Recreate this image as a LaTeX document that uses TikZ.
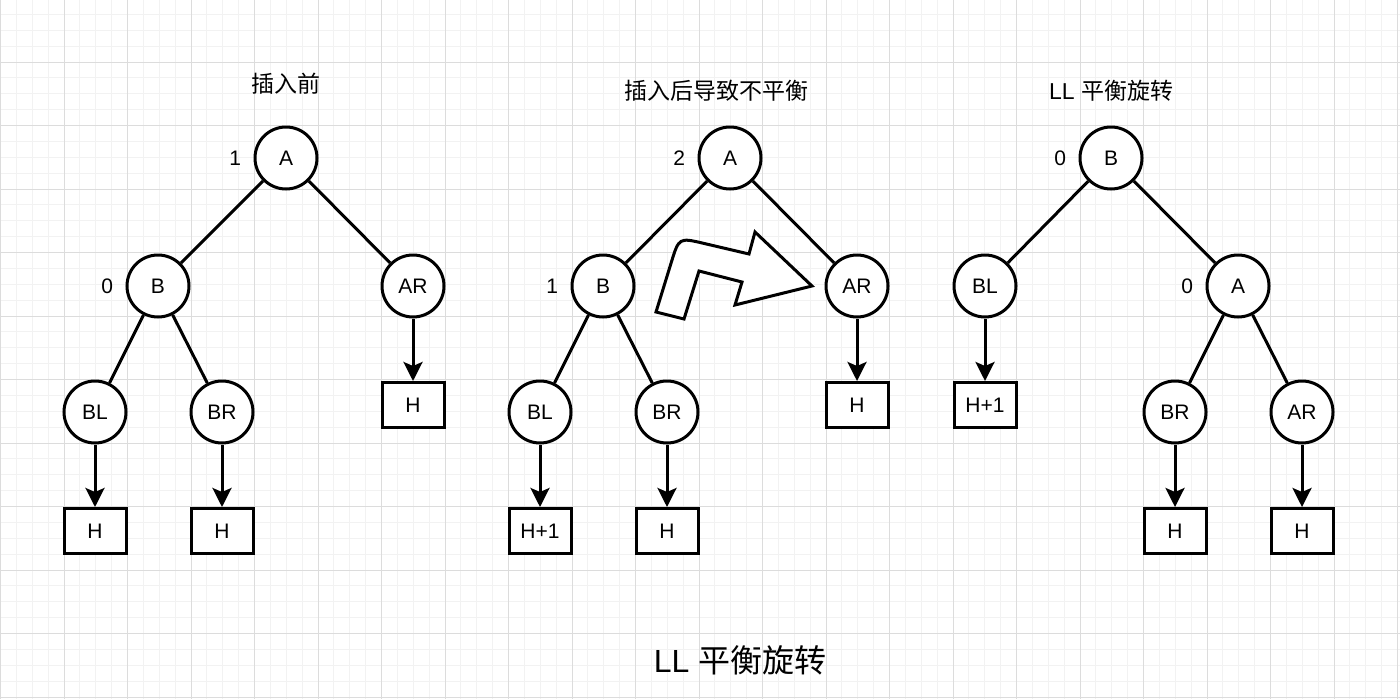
\documentclass[tikz,border=0pt]{standalone}
\usepackage{fontspec}
\setmainfont{Liberation Sans}
\newfontfamily\cjk{Noto Sans CJK SC}
\usetikzlibrary{arrows.meta}
\definecolor{gridminor}{RGB}{242,242,242}
\definecolor{gridmajor}{RGB}{220,220,220}
\begin{document}
\begin{tikzpicture}[x=1pt,y=-1pt,
  treenode/.style={circle,draw,line width=3pt,minimum size=62pt,inner sep=0pt,fill=white,font=\fontsize{21}{21}\selectfont},
  leafbox/.style={rectangle,draw,line width=3pt,minimum width=62pt,minimum height=45pt,inner sep=0pt,fill=white,font=\fontsize{21}{21}\selectfont},
  edgeline/.style={line width=3pt},
  arr/.style={line width=3pt,-{Stealth[length=19pt,width=19pt,inset=4pt]}},
  bal/.style={label={[label distance=9pt,font=\fontsize{21}{21}\selectfont]left:#1}},
  title/.style={font=\cjk\fontsize{23}{23}\selectfont,inner sep=0pt},
  bigarrow/.style={draw,line width=3pt,fill=white,line join=miter}
]
\useasboundingbox (0,0) rectangle (1400,699);
\fill[white] (0,0) rectangle (1400,699);
% grid
\foreach \i in {0,...,89} {
  \draw[gridminor,line width=0.8pt] ({0.5+15.875*\i},0) -- ({0.5+15.875*\i},699);
}
\foreach \i in {0,...,45} {
  \draw[gridminor,line width=0.8pt] (0,{-1.5+15.875*\i}) -- (1400,{-1.5+15.875*\i});
}
\foreach \i in {0,...,22} {
  \draw[gridmajor,line width=0.9pt] ({0.5+63.5*\i},0) -- ({0.5+63.5*\i},699);
}
\foreach \i in {1,...,11} {
  \draw[gridmajor,line width=0.9pt] (0,{-1.5+63.5*\i}) -- (1400,{-1.5+63.5*\i});
}

% titles
\node[title] (t1) at (286,84) {插入前};
\node[title] (t2) at (716,91) {插入后导致不平衡};
\node[title] (t3) at (1111,91) {\fontspec{Liberation Sans}LL \cjk 平衡旋转};
\node[font=\fontsize{32}{32}\selectfont,inner sep=0pt] (t4) at (740,660) {LL {\cjk 平衡旋转}};

% left tree
\node[treenode,bal=1] (A1) at (286,158) {A};
\node[treenode,bal=0] (B1) at (158,286) {B};
\node[treenode] (AR1) at (413,286) {AR};
\node[treenode] (BL1) at (95,412) {BL};
\node[treenode] (BR1) at (222,412) {BR};
\node[leafbox] (HBL1) at (95,531) {H};
\node[leafbox] (HBR1) at (222,531) {H};
\node[leafbox] (HAR1) at (413,405) {H};
\draw[edgeline] (A1) -- (B1);
\draw[edgeline] (A1) -- (AR1);
\draw[edgeline] (B1) -- (BL1);
\draw[edgeline] (B1) -- (BR1);
\draw[arr] (BL1) -- (HBL1);
\draw[arr] (BR1) -- (HBR1);
\draw[arr] (AR1) -- (HAR1);

% middle tree
\node[treenode,bal=2] (A2) at (730,158) {A};
\node[treenode,bal=1] (B2) at (603,286) {B};
\node[treenode] (AR2) at (857,286) {AR};
\node[treenode] (BL2) at (540,412) {BL};
\node[treenode] (BR2) at (667,412) {BR};
\node[leafbox] (HBL2) at (540,531) {H+1};
\node[leafbox] (HBR2) at (667,531) {H};
\node[leafbox] (HAR2) at (857,405) {H};
\draw[edgeline] (A2) -- (B2);
\draw[edgeline] (A2) -- (AR2);
\draw[edgeline] (B2) -- (BL2);
\draw[edgeline] (B2) -- (BR2);
\draw[arr] (BL2) -- (HBL2);
\draw[arr] (BR2) -- (HBR2);
\draw[arr] (AR2) -- (HAR2);

% bent arrow
\draw[bigarrow] (656,312) -- (671.3,262.3) .. controls (679,237.5) .. (704.3,243.5)
  -- (749,254) -- (755,232) -- (812,286) -- (735,305) -- (742,282)
  -- (699,271) -- (684,319) -- cycle;

% right tree
\node[treenode,bal=0] (B3) at (1111,158) {B};
\node[treenode] (BL3) at (985,286) {BL};
\node[treenode,bal=0] (A3) at (1238,286) {A};
\node[treenode] (BR3) at (1175,412) {BR};
\node[treenode] (AR3) at (1302,412) {AR};
\node[leafbox] (HBL3) at (985,405) {H+1};
\node[leafbox] (HBR3) at (1175,531) {H};
\node[leafbox] (HAR3) at (1302,531) {H};
\draw[edgeline] (B3) -- (BL3);
\draw[edgeline] (B3) -- (A3);
\draw[edgeline] (A3) -- (BR3);
\draw[edgeline] (A3) -- (AR3);
\draw[arr] (BL3) -- (HBL3);
\draw[arr] (BR3) -- (HBR3);
\draw[arr] (AR3) -- (HAR3);
\end{tikzpicture}
\end{document}
